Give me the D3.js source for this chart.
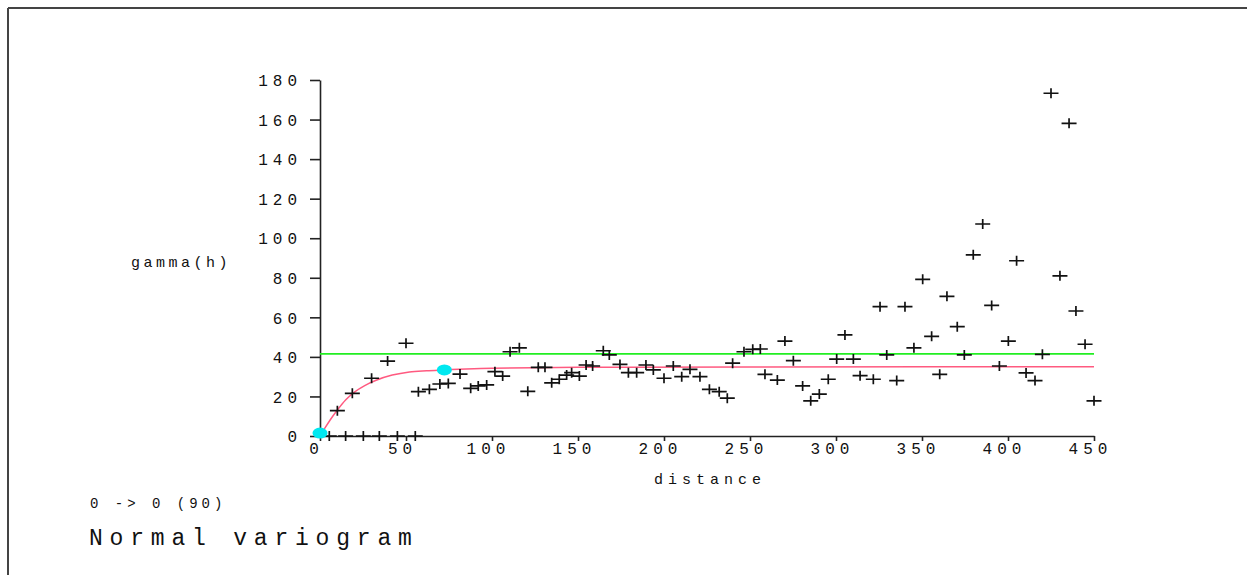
<!DOCTYPE html>
<html>
<head>
<meta charset="utf-8">
<script src="https://cdn.jsdelivr.net/npm/d3@7/dist/d3.min.js"></script>
<style>
  html, body { margin: 0; padding: 0; background: #fff; }
  svg { display: block; }
  text { font-family: "Liberation Mono", "DejaVu Sans Mono", monospace; fill: #111; }
</style>
</head>
<body>
<svg id="chart" width="1247" height="575"></svg>
<script>
// Experimental variogram: lag distance and semivariance per lag
const lagDistance = [
  5.4, 10.1, 14.9, 18.8, 25.2, 30.0, 34.5, 39.3, 45.0, 50.0,
  55.4, 57.2, 63.6, 69.7, 74.6, 81.4, 87.6, 92.0, 96.9, 101.7,
  106.2, 110.5, 115.9, 120.8, 126.9, 130.8, 134.7, 139.1, 143.4, 146.3,
  150.8, 154.7, 158.5, 164.7, 168.2, 174.4, 179.3, 184.1, 189.5, 193.8,
  200.0, 205.4, 210.3, 215.1, 220.9, 226.4, 232.1, 236.8, 239.9, 246.5,
  251.6, 256.0, 258.7, 265.9, 270.3, 275.2, 280.6, 285.3, 290.3, 295.5,
  300.4, 305.2, 310.1, 314.0, 321.7, 325.6, 329.5, 335.3, 340.1, 345.3,
  350.4, 355.6, 360.3, 364.5, 370.5, 374.6, 379.8, 385.3, 390.5, 395.0,
  400.2, 405.0, 410.5, 415.7, 420.0, 425.0, 430.2, 435.5, 439.5, 444.8,
  450.0
];
const gammaValue = [
  0, 12.8, 0, 21.6, 0, 29.2, 0, 37.9, 0, 46.9,
  0, 22.4, 23.6, 26.3, 26.6, 31.3, 24.1, 25.3, 25.8, 32.5,
  30.3, 42.6, 44.6, 22.6, 34.7, 34.7, 26.9, 28.7, 30.8, 32.0,
  30.3, 35.9, 35.4, 43.1, 41.0, 36.2, 32.0, 32.0, 35.9, 33.4,
  29.2, 35.4, 30.0, 33.7, 30.0, 23.6, 22.4, 19.1, 36.8, 42.6,
  43.8, 44.0, 31.2, 28.3, 48.0, 38.1, 25.3, 17.8, 21.2, 28.7,
  38.9, 51.1, 38.9, 30.5, 28.7, 65.4, 41.0, 28.0, 65.4, 44.6,
  79.2, 50.4, 31.2, 70.6, 55.3, 41.0, 91.6, 107.2, 66.0, 35.4,
  48.0, 88.6, 31.9, 28.0, 41.3, 173.3, 81.0, 158.1, 63.2, 46.4,
  17.8
];

// Fitted model curve (distance, gamma)
const modelDistance = [0, 3, 6, 10, 15, 20, 26, 33, 42, 52, 62, 72, 85, 100, 150, 250, 450];
const modelGamma    = [0, 4.2, 8.2, 13.0, 18.3, 22.2, 25.5, 28.3, 30.8, 32.4, 33.0, 33.4, 33.9, 34.3, 34.7, 34.9, 35.0];

// Model control handles (nugget and range)
const handleDistance = [0, 72.3];
const handleGamma    = [1.5, 33.4];

// Sample variance (sill reference)
const sampleVariance = 41.5;

const xTicks = [0, 50, 100, 150, 200, 250, 300, 350, 400, 450];
const yTicks = [0, 20, 40, 60, 80, 100, 120, 140, 160, 180];

const svg = d3.select("#chart");

const x = d3.scaleLinear().domain([0, 450]).range([320, 1094]);
const y = d3.scaleLinear().domain([0, 180]).range([436, 80]);

// window frame (top and left edges)
svg.append("line").attr("x1", 8).attr("y1", 8).attr("x2", 1247).attr("y2", 8)
  .attr("stroke", "#444").attr("stroke-width", 2);
svg.append("line").attr("x1", 8).attr("y1", 8).attr("x2", 8).attr("y2", 575)
  .attr("stroke", "#444").attr("stroke-width", 2);

// axes
const yAxis = svg.append("g").attr("transform", "translate(320,0)")
  .call(d3.axisLeft(y).tickValues(yTicks).tickSize(10).tickSizeOuter(0).tickPadding(0)
    .tickFormat(d3.format("d")));
const xAxis = svg.append("g").attr("transform", "translate(0,436)")
  .call(d3.axisBottom(x).tickValues(xTicks).tickSize(5).tickSizeOuter(0).tickPadding(0)
    .tickFormat(d3.format("d")));

[yAxis, xAxis].forEach(g => {
  g.selectAll("path.domain").attr("stroke", "#222").attr("stroke-width", 1.6);
  g.selectAll(".tick line").attr("stroke", "#222").attr("stroke-width", 1.6);
  g.selectAll(".tick text")
    .style("font-family", "'Liberation Mono', 'DejaVu Sans Mono', monospace")
    .style("font-size", "16px")
    .style("letter-spacing", "5px")
    .attr("fill", "#111");
});
yAxis.selectAll(".tick text").attr("x", -18).attr("dy", "0.36em").attr("text-anchor", "end");
xAxis.selectAll(".tick text").attr("y", 18).attr("dy", 0).attr("dx", -4).attr("text-anchor", "middle");

// axis titles
svg.append("text").attr("x", 131).attr("y", 267)
  .style("font-size", "15px").style("letter-spacing", "3.5px").text("gamma(h)");
svg.append("text").attr("x", 654).attr("y", 484)
  .style("font-size", "15px").style("letter-spacing", "5px").text("distance");

// sample variance line
svg.append("line")
  .attr("x1", x(0)).attr("x2", x(450))
  .attr("y1", y(sampleVariance)).attr("y2", y(sampleVariance))
  .attr("stroke", "#22ee22").attr("stroke-width", 1.8);

// model curve
const line = d3.line().x((d, i) => x(modelDistance[i])).y((d, i) => y(modelGamma[i]))
  .curve(d3.curveMonotoneX);
svg.append("path").datum(modelDistance)
  .attr("d", line).attr("fill", "none")
  .attr("stroke", "#ff5a80").attr("stroke-width", 1.5);

// experimental points as crosses
svg.append("g").selectAll("path").data(lagDistance).join("path")
  .attr("transform", (d, i) => `translate(${x(d)},${y(gammaValue[i])})`)
  .attr("d", "M-7.5,0H7.5M0,-5V5")
  .attr("stroke", "#111").attr("stroke-width", 1.7).attr("fill", "none");

// model handles
svg.append("g").selectAll("ellipse").data(handleDistance).join("ellipse")
  .attr("cx", d => x(d)).attr("cy", (d, i) => y(handleGamma[i]))
  .attr("rx", 7.5).attr("ry", 5.5)
  .attr("fill", "#00e8f0");

// captions
svg.append("text").attr("x", 90).attr("y", 508)
  .style("font-size", "14px").style("letter-spacing", "4px").text("0 -> 0 (90)");
svg.append("text").attr("x", 89).attr("y", 545)
  .style("font-size", "23px").style("letter-spacing", "6.8px").text("Normal variogram");
</script>
</body>
</html>
